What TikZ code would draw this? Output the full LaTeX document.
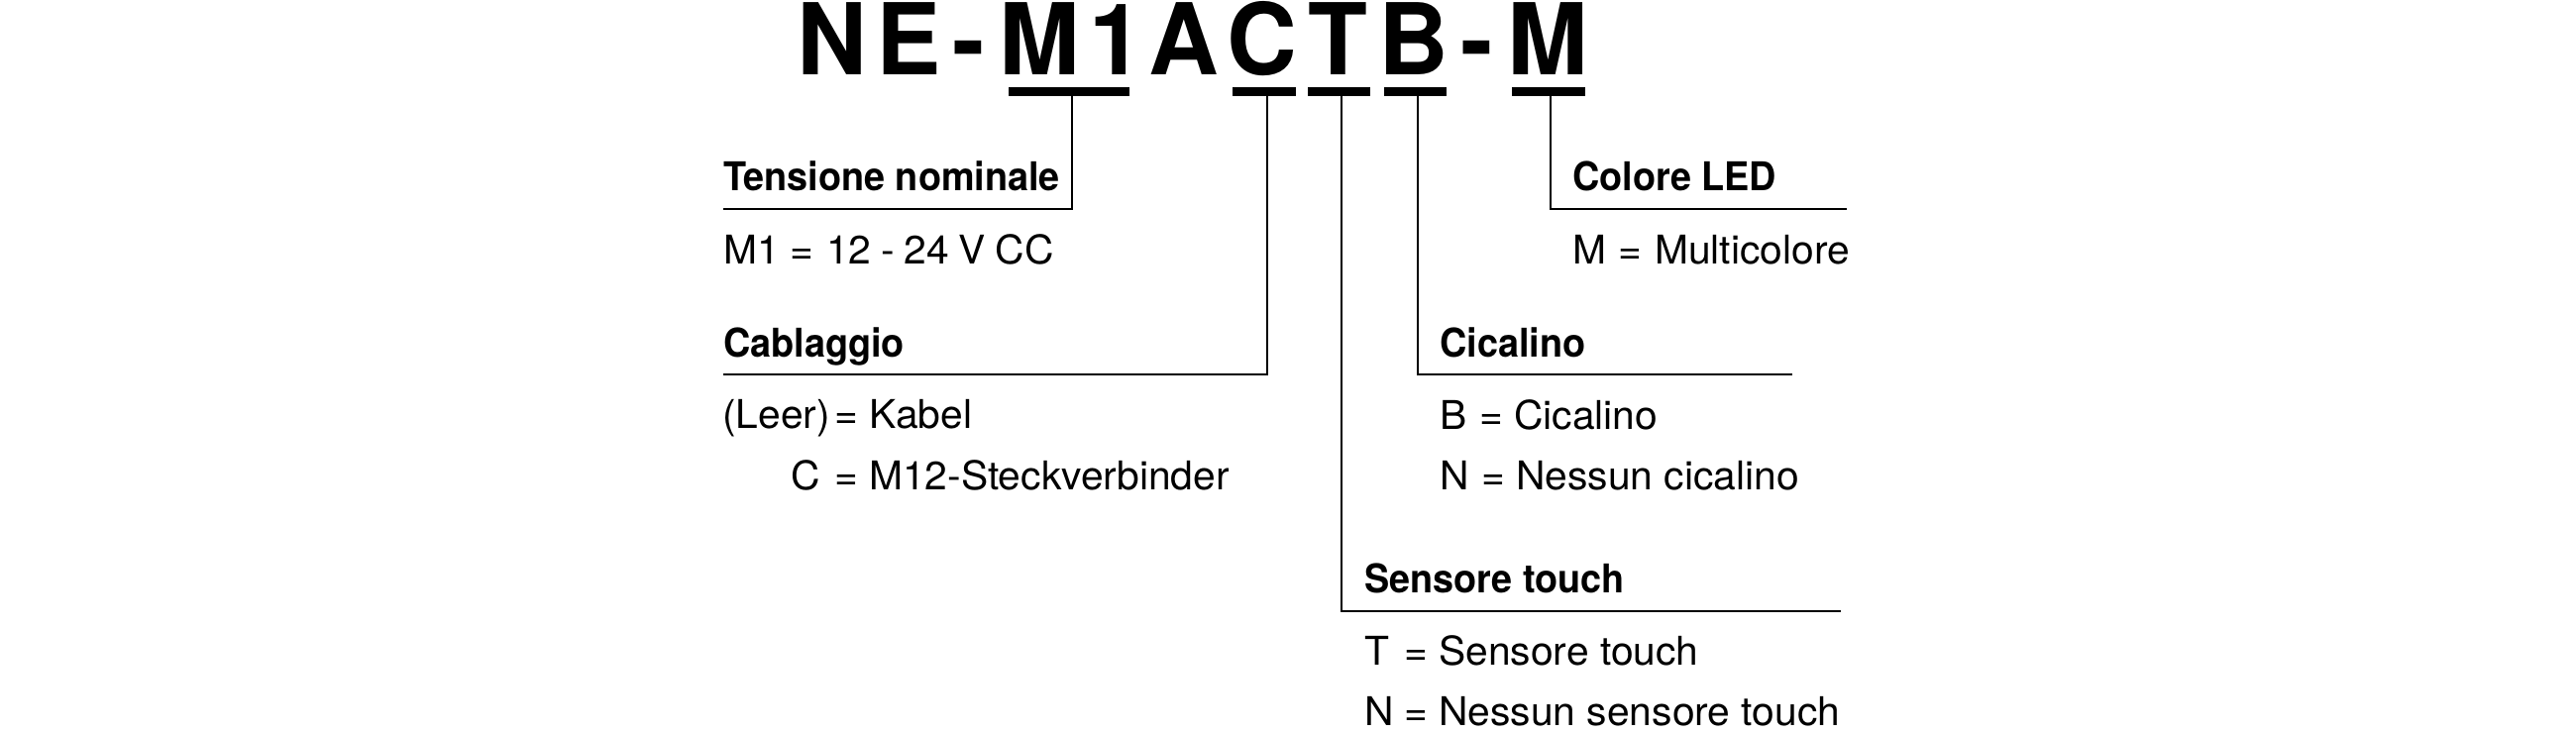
\documentclass[tikz,border=0pt]{standalone}
\usepackage{fontspec}
\setmainfont{TeX Gyre Heros}[FakeStretch=1.02]
\newfontfamily\titlefont{TeX Gyre Heros}[FakeStretch=0.98]
\newfontfamily\headfont{TeX Gyre Heros}[FakeStretch=0.945]
\newcommand{\rowthree}[5]{\makebox[#1pt][l]{#2}\makebox[#3pt][l]{#4}#5}
\tikzset{
  x=1pt,y=-1pt,
  codebar/.style={fill=black,inner sep=0pt,minimum height=9pt,anchor=north west},
  head/.style={anchor=base west,inner sep=0pt,font=\headfont\fontsize{40}{40}\selectfont\bfseries},
  entry/.style={anchor=base west,inner sep=0pt,font=\fontsize{40}{40}\selectfont},
  lead/.style={line width=2pt,line join=miter,black},
}
\begin{document}
\begin{tikzpicture}
\useasboundingbox (0,0) rectangle (2600,740);
\node[anchor=base west,inner sep=0pt,font=\titlefont\fontsize{100}{100}\selectfont\bfseries] (title) at (804,75)
 {N\kern10pt E\kern11.3pt -\kern14.4pt M\kern9.5pt 1\kern4.9pt A\kern8.6pt C\kern11.3pt T\kern11.2pt B\kern12.5pt -\kern13.9pt M};

\node[codebar,minimum width=122.5pt] (bar1) at (1017.5,88) {};
\node[codebar,minimum width=64pt] (bar2) at (1244,88) {};
\node[codebar,minimum width=63pt] (bar3) at (1320,88) {};
\node[codebar,minimum width=63pt] (bar4) at (1397,88) {};
\node[codebar,minimum width=74.5pt] (bar5) at (1525.5,88) {};

\coordinate (k1) at (1082,0);
\coordinate (k2) at (1279,0);
\coordinate (k3) at (1354,0);
\coordinate (k4) at (1430.5,0);
\coordinate (k5) at (1564.5,0);
\coordinate (e1) at (730,211);
\coordinate (e2) at (730,378);
\coordinate (e3) at (1858,617);
\coordinate (e4) at (1809,378);
\coordinate (e5) at (1864,211);

\draw[lead] (bar1.south -| k1) |- (e1);
\draw[lead] (bar2.south -| k2) |- (e2);
\draw[lead] (bar3.south -| k3) |- (e3);
\draw[lead] (bar4.south -| k4) |- (e4);
\draw[lead] (bar5.south -| k5) |- (e5);

\node[head] (h1) at (730,192) {Tensione nominale};
\node[entry] (t1) at (730,266) {\rowthree{67}{M1}{37}{=}{\spaceskip=9.8pt 12 - 24 V CC}};

\node[head] (h2) at (730,360) {Cablaggio};
\node[entry] (t2a) at (730,432) {\rowthree{112}{\kern-1pt(Leer)}{35}{=}{Kabel}};
\node[entry] (t2b) at (798,494) {\rowthree{44}{C}{35}{=}{M12-Steckverbinder}};

\node[head] (h3) at (1377,598) {Sensore touch};
\node[entry] (t3a) at (1377,671) {\rowthree{40}{T}{35}{=}{Sensore touch}};
\node[entry] (t3b) at (1377,732) {\rowthree{40}{N}{35}{=}{Nessun sensore touch}};

\node[head] (h4) at (1453,360) {Cicalino};
\node[entry] (t4a) at (1453,433) {\rowthree{40}{B}{35}{=}{Cicalino}};
\node[entry] (t4b) at (1453,494) {\rowthree{42}{N}{35}{=}{Nessun cicalino}};

\node[head] (h5) at (1587,192) {Colore LED};
\node[entry] (t5) at (1587,266) {\rowthree{46}{M}{37}{=}{\spaceskip=9.8pt Multicolore}};
\end{tikzpicture}
\end{document}
